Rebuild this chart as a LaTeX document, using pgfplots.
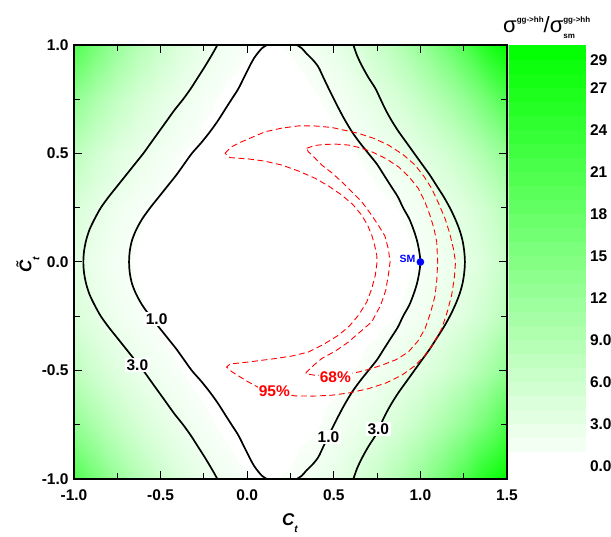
\documentclass[border=0pt]{standalone}
\usepackage{fontspec}
\setmainfont{Liberation Sans}
\usepackage{pgfplots}
\pgfplotsset{compat=1.18}
\newcommand\tklfont{\fontsize{15.5}{18}\selectfont\bfseries}
\begin{document}
\begin{tikzpicture}
\begin{axis}[
 at={(0,0)}, anchor=south west,
 scale only axis, width=433pt, height=434pt,
 xmin=-1, xmax=1.5, ymin=-1, ymax=1,
 xtick={-1,-0.5,0,0.5,1,1.5}, xticklabels={-1.0,-0.5,0.0,0.5,1.0,1.5},
 ytick={-1,-0.5,0,0.5,1}, yticklabels={-1.0,-0.5,0.0,0.5,1.0},
 minor x tick num=1, minor y tick num=1,
 tick align=inside, tick pos=both,
 major tick length=8pt, minor tick length=6pt,
 tick style={black, line width=1pt},
 axis line style={line width=1.8pt},
 xticklabel style={font=\tklfont, yshift=-7pt},
 yticklabel style={font=\tklfont, xshift=-2pt},
 axis on top,
 colormap={wg}{rgb255(0pt)=(255,255,255); rgb255(193pt)=(255,255,255); rgb255(194pt)=(248,255,248); rgb255(3100pt)=(0,255,0)},
 point meta min=-0.93, point meta max=30.07,
 colorbar sampled,
 colorbar style={
   samples=32,
   width=78pt,
   at={(parent axis.north east)}, anchor=north west, xshift=-7pt,
   ytick={0,3,6,9,12,15,18,21,24,27,29},
   yticklabels={0.0,3.0,6.0,9.0,12,15,18,21,24,27,29},
   yticklabel style={font=\tklfont},
   major tick length=0pt,
   axis line style={draw=none},
   tick style={draw=none},
 },
]
\addplot[surf, shader=interp, mesh/cols=21, point meta=explicit] table[meta=z] {
x y z
-1 -1 20.78
-0.875 -1 15.99
-0.75 -1 12.02
-0.625 -1 8.78
-0.5 -1 6.19
-0.375 -1 4.18
-0.25 -1 2.68
-0.125 -1 1.66
0 -1 1.07
0.125 -1 0.90
0.25 -1 1.14
0.375 -1 1.79
0.5 -1 2.87
0.625 -1 4.40
0.75 -1 6.42
0.875 -1 8.99
1 -1 12.16
1.125 -1 16.02
1.25 -1 20.66
1.375 -1 26.17
1.5 -1 32.67
-1 -0.75 13.11
-0.875 -0.75 9.81
-0.75 -0.75 7.16
-0.625 -0.75 5.06
-0.5 -0.75 3.43
-0.375 -0.75 2.20
-0.25 -0.75 1.31
-0.125 -0.75 0.72
0 -0.75 0.38
0.125 -0.75 0.29
0.25 -0.75 0.42
0.375 -0.75 0.79
0.5 -0.75 1.40
0.625 -0.75 2.30
0.75 -0.75 3.50
0.875 -0.75 5.08
1 -0.75 7.08
1.125 -0.75 9.60
1.25 -0.75 12.71
1.375 -0.75 16.51
1.5 -0.75 21.13
-1 -0.5 7.83
-0.875 -0.5 5.61
-0.75 -0.5 3.90
-0.625 -0.5 2.61
-0.5 -0.5 1.67
-0.375 -0.5 1.00
-0.25 -0.5 0.54
-0.125 -0.5 0.26
0 -0.5 0.10
0.125 -0.5 0.06
0.25 -0.5 0.12
0.375 -0.5 0.28
0.5 -0.5 0.57
0.625 -0.5 1.00
0.75 -0.5 1.63
0.875 -0.5 2.49
1 -0.5 3.66
1.125 -0.5 5.21
1.25 -0.5 7.23
1.375 -0.5 9.82
1.5 -0.5 13.10
-1 -0.25 4.76
-0.875 -0.25 3.17
-0.75 -0.25 2.02
-0.625 -0.25 1.23
-0.5 -0.25 0.70
-0.375 -0.25 0.36
-0.25 -0.25 0.17
-0.125 -0.25 0.06
0 -0.25 0.02
0.125 -0.25 0.00
0.25 -0.25 0.02
0.375 -0.25 0.06
0.5 -0.25 0.15
0.625 -0.25 0.32
0.75 -0.25 0.59
0.875 -0.25 1.03
1 -0.25 1.70
1.125 -0.25 2.67
1.25 -0.25 4.04
1.375 -0.25 5.90
1.5 -0.25 8.36
-1 0 3.75
-0.875 0 2.37
-0.75 0 1.41
-0.625 0 0.78
-0.5 0 0.39
-0.375 0 0.17
-0.25 0 0.06
-0.125 0 0.01
0 0 0.00
0.125 0 0.00
0.25 0 0.00
0.375 0 0.00
0.5 0 0.03
0.625 0 0.10
0.75 0 0.26
0.875 0 0.56
1 0 1.06
1.125 0 1.84
1.25 0 2.98
1.375 0 4.60
1.5 0 6.80
-1 0.25 4.76
-0.875 0.25 3.17
-0.75 0.25 2.02
-0.625 0.25 1.23
-0.5 0.25 0.70
-0.375 0.25 0.36
-0.25 0.25 0.17
-0.125 0.25 0.06
0 0.25 0.02
0.125 0.25 0.00
0.25 0.25 0.02
0.375 0.25 0.06
0.5 0.25 0.15
0.625 0.25 0.32
0.75 0.25 0.59
0.875 0.25 1.03
1 0.25 1.70
1.125 0.25 2.67
1.25 0.25 4.04
1.375 0.25 5.90
1.5 0.25 8.36
-1 0.5 7.83
-0.875 0.5 5.61
-0.75 0.5 3.90
-0.625 0.5 2.61
-0.5 0.5 1.67
-0.375 0.5 1.00
-0.25 0.5 0.54
-0.125 0.5 0.26
0 0.5 0.10
0.125 0.5 0.06
0.25 0.5 0.12
0.375 0.5 0.28
0.5 0.5 0.57
0.625 0.5 1.00
0.75 0.5 1.63
0.875 0.5 2.49
1 0.5 3.66
1.125 0.5 5.21
1.25 0.5 7.23
1.375 0.5 9.82
1.5 0.5 13.10
-1 0.75 13.11
-0.875 0.75 9.81
-0.75 0.75 7.16
-0.625 0.75 5.06
-0.5 0.75 3.43
-0.375 0.75 2.20
-0.25 0.75 1.31
-0.125 0.75 0.72
0 0.75 0.38
0.125 0.75 0.29
0.25 0.75 0.42
0.375 0.75 0.79
0.5 0.75 1.40
0.625 0.75 2.30
0.75 0.75 3.50
0.875 0.75 5.08
1 0.75 7.08
1.125 0.75 9.60
1.25 0.75 12.71
1.375 0.75 16.51
1.5 0.75 21.13
-1 1 20.78
-0.875 1 15.99
-0.75 1 12.02
-0.625 1 8.78
-0.5 1 6.19
-0.375 1 4.18
-0.25 1 2.68
-0.125 1 1.66
0 1 1.07
0.125 1 0.90
0.25 1 1.14
0.375 1 1.79
0.5 1 2.87
0.625 1 4.40
0.75 1 6.42
0.875 1 8.99
1 1 12.16
1.125 1 16.02
1.25 1 20.66
1.375 1 26.17
1.5 1 32.67
};
% contour 1.0 right
\addplot[black, line width=1.7pt, smooth] coordinates {
(0.286,1) (0.315,0.985) (0.343,0.96) (0.375,0.935) (0.41,0.9) (0.44,0.85) (0.47,0.8) (0.495,0.76) (0.52,0.72) (0.56,0.66) (0.605,0.6) (0.65,0.55) (0.70,0.5) (0.75,0.45) (0.79,0.4) (0.83,0.35) (0.87,0.3) (0.90,0.25) (0.935,0.2) (0.96,0.15) (0.98,0.1) (0.993,0.05) (1.0,0)
(0.993,-0.05) (0.98,-0.1) (0.96,-0.15) (0.935,-0.2) (0.90,-0.25) (0.87,-0.3) (0.83,-0.35) (0.79,-0.4) (0.75,-0.45) (0.70,-0.5) (0.65,-0.55) (0.605,-0.6) (0.56,-0.66) (0.52,-0.72) (0.495,-0.76) (0.47,-0.8) (0.44,-0.85) (0.41,-0.9) (0.375,-0.935) (0.343,-0.96) (0.315,-0.985) (0.286,-1)};
% contour 1.0 left
\addplot[black, line width=1.7pt, smooth] coordinates {
(0.115,1) (0.085,0.985) (0.04,0.94) (0.0,0.88) (-0.05,0.8) (-0.09,0.75) (-0.13,0.7) (-0.17,0.65) (-0.215,0.6) (-0.265,0.55) (-0.32,0.5) (-0.365,0.45) (-0.41,0.4) (-0.46,0.35) (-0.51,0.3) (-0.56,0.25) (-0.605,0.2) (-0.64,0.15) (-0.665,0.1) (-0.678,0.05) (-0.682,0)
(-0.678,-0.05) (-0.665,-0.1) (-0.64,-0.15) (-0.605,-0.2) (-0.56,-0.25) (-0.51,-0.3) (-0.46,-0.35) (-0.41,-0.4) (-0.365,-0.45) (-0.32,-0.5) (-0.265,-0.55) (-0.215,-0.6) (-0.17,-0.65) (-0.13,-0.7) (-0.09,-0.75) (-0.05,-0.8) (0.0,-0.88) (0.04,-0.94) (0.085,-0.985) (0.115,-1)};
% contour 3.0 left
\addplot[black, line width=1.7pt, smooth] coordinates {
(-0.172,1) (-0.20,0.96) (-0.245,0.9) (-0.285,0.85) (-0.325,0.8) (-0.37,0.75) (-0.42,0.7) (-0.465,0.65) (-0.51,0.6) (-0.555,0.55) (-0.60,0.5) (-0.65,0.45) (-0.70,0.4) (-0.75,0.35) (-0.80,0.3) (-0.845,0.25) (-0.88,0.2) (-0.91,0.15) (-0.93,0.1) (-0.942,0.05) (-0.946,0)
(-0.942,-0.05) (-0.93,-0.1) (-0.91,-0.15) (-0.88,-0.2) (-0.845,-0.25) (-0.80,-0.3) (-0.75,-0.35) (-0.70,-0.4) (-0.65,-0.45) (-0.60,-0.5) (-0.555,-0.55) (-0.51,-0.6) (-0.465,-0.65) (-0.42,-0.7) (-0.37,-0.75) (-0.325,-0.8) (-0.285,-0.85) (-0.245,-0.9) (-0.20,-0.96) (-0.172,-1)};
% contour 3.0 right
\addplot[black, line width=1.7pt, smooth] coordinates {
(0.613,1) (0.635,0.95) (0.665,0.9) (0.70,0.85) (0.74,0.8) (0.77,0.75) (0.80,0.7) (0.835,0.65) (0.875,0.6) (0.92,0.55) (0.965,0.5) (1.01,0.45) (1.055,0.4) (1.095,0.35) (1.135,0.3) (1.17,0.25) (1.2,0.2) (1.225,0.15) (1.243,0.1) (1.253,0.05) (1.257,0)
(1.253,-0.05) (1.243,-0.1) (1.225,-0.15) (1.2,-0.2) (1.17,-0.25) (1.135,-0.3) (1.095,-0.35) (1.055,-0.4) (1.01,-0.45) (0.965,-0.5) (0.92,-0.55) (0.875,-0.6) (0.835,-0.65) (0.80,-0.7) (0.77,-0.75) (0.74,-0.8) (0.70,-0.85) (0.665,-0.9) (0.635,-0.95) (0.613,-1)};
% 95% region
\addplot[red, line width=0.9pt, dash pattern=on 6pt off 3.5pt] coordinates {
(-0.128,0.501) (-0.09,0.531) (-0.032,0.554) (0.103,0.600) (0.2,0.617) (0.295,0.627) (0.39,0.627) (0.488,0.620) (0.642,0.593) (0.73,0.57) (0.815,0.539) (0.90,0.495) (0.969,0.447) (1.02,0.395) (1.065,0.339) (1.105,0.27) (1.142,0.201) (1.17,0.13) (1.19,0.063) (1.203,0) (1.195,-0.08) (1.18,-0.154) (1.155,-0.23) (1.123,-0.307) (1.08,-0.37) (1.027,-0.43) (0.965,-0.48) (0.892,-0.522) (0.80,-0.558) (0.699,-0.584) (0.59,-0.603) (0.488,-0.614) (0.38,-0.618) (0.276,-0.617) (0.157,-0.6) (0.07,-0.58) (0.007,-0.553) (-0.05,-0.525) (-0.09,-0.505) (-0.119,-0.484)
(-0.099,-0.47) (0.007,-0.461) (0.161,-0.445) (0.26,-0.433) (0.353,-0.415) (0.44,-0.38) (0.526,-0.338) (0.59,-0.295) (0.642,-0.246) (0.69,-0.185) (0.719,-0.123) (0.74,-0.06) (0.75,0) (0.748,0.032) (0.735,0.08) (0.719,0.124) (0.695,0.17) (0.661,0.216) (0.61,0.265) (0.545,0.309) (0.47,0.35) (0.392,0.386) (0.3,0.418) (0.199,0.447) (0.1,0.465) (0.007,0.475) (-0.099,0.481) (-0.128,0.501)};
% 68% region
\addplot[red, line width=0.9pt, dash pattern=on 6pt off 3.5pt] coordinates {
(0.343,0.524) (0.39,0.537) (0.449,0.542) (0.515,0.543) (0.584,0.539) (0.65,0.527) (0.719,0.508) (0.80,0.477) (0.873,0.439) (0.935,0.392) (0.988,0.339) (1.025,0.28) (1.055,0.216) (1.078,0.155) (1.094,0.094) (1.1,0) (1.095,-0.08) (1.085,-0.154) (1.06,-0.23) (1.027,-0.307) (0.985,-0.365) (0.93,-0.415) (0.86,-0.45) (0.776,-0.476) (0.70,-0.495) (0.642,-0.507) (0.511,-0.525) (0.391,-0.522) (0.338,-0.515)
(0.343,-0.507) (0.385,-0.475) (0.430,-0.445) (0.51,-0.41) (0.584,-0.369) (0.655,-0.32) (0.719,-0.276) (0.77,-0.2) (0.80,-0.13) (0.815,-0.06) (0.825,0) (0.815,0.06) (0.795,0.12) (0.757,0.17) (0.71,0.225) (0.661,0.278) (0.60,0.327) (0.545,0.37) (0.49,0.41) (0.430,0.447) (0.39,0.48) (0.353,0.508) (0.343,0.524)};
% SM point
\addplot[only marks, mark=*, mark size=3.6pt, color=blue] coordinates {(1,0)};
\node[fill=white, inner sep=1.5pt, font=\tklfont] at (axis cs:-0.523,-0.263) {1.0};
\node[fill=white, inner sep=1.5pt, font=\tklfont] at (axis cs:-0.634,-0.475) {3.0};
\node[fill=white, inner sep=1.5pt, font=\tklfont] at (axis cs:0.469,-0.805) {1.0};
\node[fill=white, inner sep=1.5pt, font=\tklfont] at (axis cs:0.757,-0.771) {3.0};
\node[fill=white, inner sep=1pt, text=red, font=\tklfont] at (axis cs:0.509,-0.533) {68\%};
\node[fill=white, inner sep=1pt, text=red, font=\tklfont] at (axis cs:0.157,-0.595) {95\%};
\node[text=blue, font=\fontsize{10.5}{12}\selectfont\bfseries] at (axis cs:0.925,0.014) {SM};
\end{axis}
% axis labels
\node[anchor=base] at (216pt,-47pt) {\fontsize{17}{20}\selectfont\bfseries\itshape C\raisebox{-7pt}{\fontsize{10}{12}\selectfont t}};
\node[anchor=center, rotate=90] at (-46pt,214pt) {\fontsize{17}{20}\selectfont\bfseries\itshape \~{C}\raisebox{-8pt}{\fontsize{10}{12}\selectfont t}};
% colorbar title
\node[anchor=base west, inner sep=0pt] at (429pt,446pt) {\fontsize{22}{24}\selectfont σ\raisebox{10pt}{\fontsize{8}{9}\selectfont\bfseries gg->hh}/σ\rlap{\raisebox{10pt}{\fontsize{8}{9}\selectfont\bfseries gg->hh}}\raisebox{-6pt}{\fontsize{8}{9}\selectfont\bfseries sm}};
\pgfresetboundingbox
\path[use as bounding box] (-74pt,-57pt) rectangle (537pt,479pt);
\end{tikzpicture}
\end{document}
